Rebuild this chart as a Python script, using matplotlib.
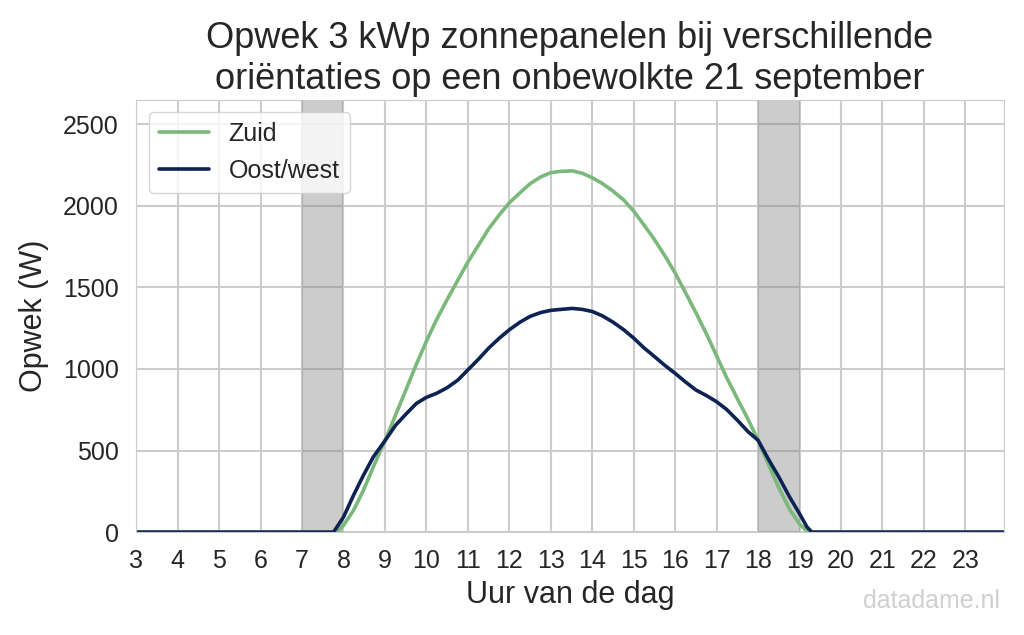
import matplotlib
matplotlib.use('Agg')
import matplotlib.pyplot as plt
import seaborn as sns

sns.set_style('whitegrid')
plt.rcParams['font.family'] = ['Liberation Sans', 'DejaVu Sans']

# uur van de dag en opwek (W)
uur_zuid = [3, 7.82, 8.0, 8.24, 8.48, 8.72, 9.0, 9.26, 9.52, 9.76, 10.0, 10.24, 10.5,
            10.76, 11.0, 11.26, 11.5, 11.76, 12.0, 12.26, 12.5, 12.76, 13.0, 13.2,
            13.52, 13.76, 14.0, 14.24, 14.5, 14.76, 15.0, 15.24, 15.5, 15.76, 16.0,
            16.24, 16.5, 16.76, 17.0, 17.24, 17.5, 17.76, 18.0, 18.24, 18.5, 18.76,
            19.0, 19.2, 23.92]
zuid = [0, 0, 41, 133, 256, 400, 560, 720, 880, 1030, 1170, 1300, 1425,
        1545, 1655, 1760, 1858, 1945, 2018, 2080, 2135, 2177, 2203, 2210,
        2214, 2199, 2172, 2137, 2090, 2035, 1967, 1885, 1793, 1690, 1588,
        1472, 1345, 1212, 1080, 948, 818, 690, 563, 420, 272, 140,
        50, 0, 0]

uur_ow = [3, 7.76, 8.0, 8.24, 8.48, 8.72, 9.0, 9.26, 9.52, 9.76, 10.0, 10.24, 10.5,
          10.76, 11.0, 11.26, 11.5, 11.76, 12.0, 12.26, 12.5, 12.76, 13.0, 13.2,
          13.52, 13.76, 14.0, 14.24, 14.5, 14.76, 15.0, 15.24, 15.5, 15.76, 16.0,
          16.24, 16.5, 16.76, 17.0, 17.24, 17.5, 17.76, 18.0, 18.24, 18.5, 18.76,
          19.0, 19.18, 19.3, 23.92]
oost_west = [0, 0, 92, 225, 348, 461, 560, 656, 727, 789, 826, 850, 885,
             932, 994, 1061, 1127, 1189, 1240, 1287, 1322, 1346, 1359, 1364,
             1371, 1365, 1352, 1326, 1287, 1240, 1189, 1131, 1076, 1020, 973,
             922, 871, 836, 799, 752, 686, 615, 563, 451, 338, 215,
             113, 31, 0, 0]

nacht = [(7, 8), (18, 19)]
uren = list(range(3, 24))

fig = plt.figure(figsize=(10.24, 6.35), dpi=100)
ax = fig.add_axes([0.133, 0.162, 0.847, 0.681])

for start, eind in nacht:
    ax.axvspan(start, eind, color='gray', alpha=0.4, lw=0)

ax.plot(uur_zuid, zuid, color='#7bb87b', lw=2.6, label='Zuid')
ax.plot(uur_ow, oost_west, color='#0c2353', lw=2.6, label='Oost/west')

ax.set_xlim(3, 23.92)
ax.set_ylim(0, 2650)
ax.set_xticks(uren)
ax.set_yticks(range(0, 2501, 500))
ax.grid(lw=1.5, color='#cccccc')
ax.tick_params(labelsize=18, colors='#262626', pad=9)
ax.set_xlabel('Uur van de dag', fontsize=22, color='#262626', labelpad=5)
ax.set_ylabel('Opwek (W)', fontsize=22, color='#262626', labelpad=10)
ax.set_title('Opwek 3 kWp zonnepanelen bij verschillende\noriëntaties op een onbewolkte 21 september',
             fontsize=26, color='#262626', pad=8)
ax.legend(loc='upper left', fontsize=18)

fig.text(0.977, 0.035, 'datadame.nl', ha='right', va='bottom', fontsize=18, color='#d0d0d0')

fig.savefig('out.png', dpi=100)
